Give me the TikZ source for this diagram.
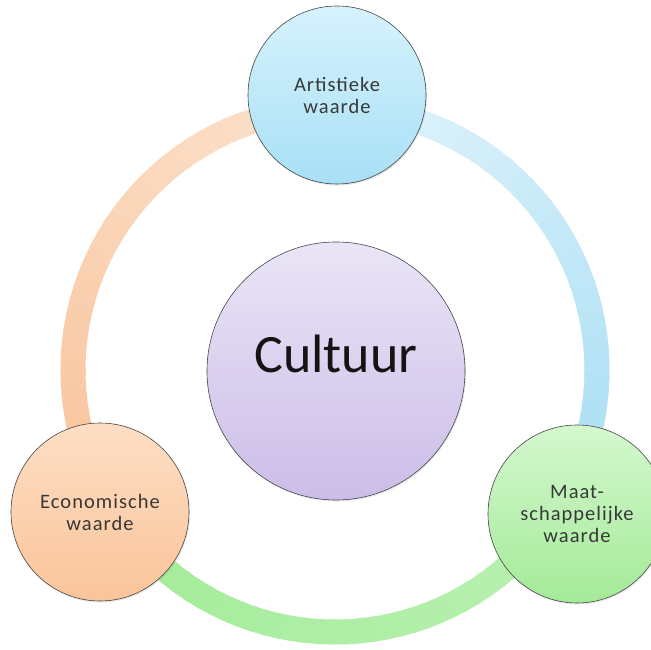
\documentclass[tikz,border=0pt]{standalone}
\usepackage{fontspec}
\setmainfont{Carlito}
\newfontfamily\valuefont[LetterSpace=5]{Carlito}
\usetikzlibrary{shadows,calc}

\definecolor{ecodeep}{HTML}{F8C39C}
\definecolor{ecopale}{HTML}{FCE3CE}
\definecolor{artpale}{HTML}{E2F4FC}
\definecolor{artdeep}{HTML}{A6DDF3}
\definecolor{socpale}{HTML}{BAF1B3}
\definecolor{socdeep}{HTML}{A2EB97}

% one coloured band of the ring, faded from #3 to #4
\newcommand{\ringarc}[4]{%
  \foreach \k in {0,...,39}{
    \pgfmathsetmacro{\from}{#1+(#2-#1)*\k/40}
    \pgfmathsetmacro{\upto}{#1+(#2-#1)*(\k+1.4)/40}
    \pgfmathtruncatemacro{\mixp}{100*\k/39}
    \draw[ring, color=#4!\mixp!#3] (ringc) ++(\from:262) arc (\from:\upto:262);
  }}

\begin{document}
\begin{tikzpicture}[x=1pt, y=-1pt,
 ring/.style = {line width=25pt, line cap=butt},
 valcircle/.style = {circle, draw=gray!55!black, line width=0.6pt, minimum size=178pt,
   inner sep=0pt, align=center, text=black!78, font=\valuefont\fontsize{20.5}{22}\selectfont,
   drop shadow={opacity=0.18, shadow xshift=1pt, shadow yshift=-1.5pt}},
 corecircle/.style = {valcircle, minimum size=258pt}]
 \fill[white] (0,0) rectangle (651,650);
 \useasboundingbox (0,0) rectangle (651,650);
 \coordinate (ringc) at (335,370);

 \ringarc{149}{270}{ecodeep}{ecopale}
 \ringarc{-90}{31}{artpale}{artdeep}
 \ringarc{31}{149}{socpale}{socdeep}

 \node[corecircle, top color={rgb,255:red,234;green,229;blue,246}, bottom color={rgb,255:red,204;green,189;blue,232}] (core) at (336,371) {};
 \node[text=black!92, font=\fontsize{54}{60}\selectfont] (corelabel) at ($(core)+(0,-17)$) {Cultuur};

 \node[valcircle, top color={rgb,255:red,214;green,242;blue,252}, bottom color={rgb,255:red,168;green,224;blue,246}] (artistic) at (337,95) {Artistieke\\waarde};
 \node[valcircle, top color={rgb,255:red,253;green,222;blue,196}, bottom color={rgb,255:red,250;green,196;blue,154}] (economic) at (100,512) {Economische\\waarde};
 \node[valcircle, top color={rgb,255:red,212;green,248;blue,206}, bottom color={rgb,255:red,164;green,234;blue,152}] (social) at (577,514) {Maat-\\schappelijke\\waarde};
\end{tikzpicture}
\end{document}
